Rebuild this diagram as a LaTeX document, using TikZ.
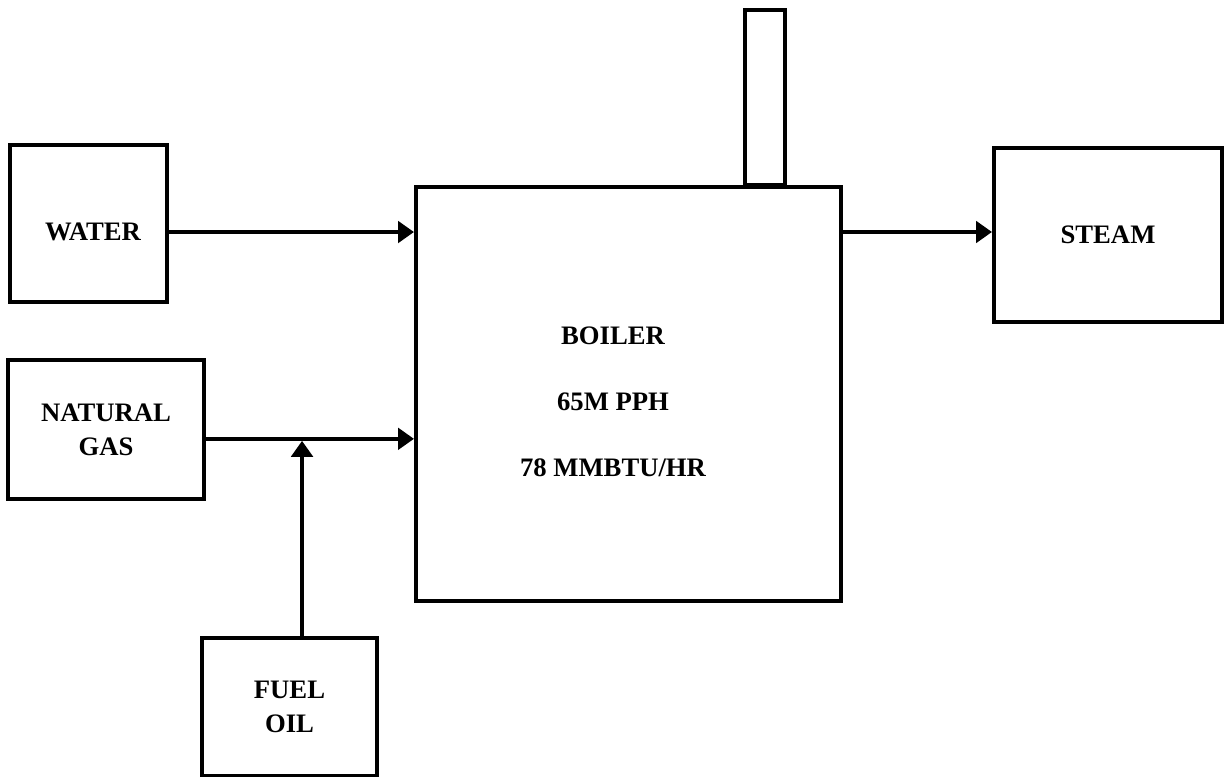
\documentclass[tikz,border=0pt]{standalone}
\usepackage{fontspec}
\setmainfont{Liberation Serif}
\usetikzlibrary{arrows.meta}

\tikzset{every picture/.style={line width=3pt}}
\tikzset{
  unit/.style={draw, rectangle, inner sep=0pt, outer sep=1.5pt, align=center,
    font=\fontsize{20}{25.5}\selectfont\bfseries},
  flow/.style={-{Triangle[length=12pt,width=16pt]}},
}

\begin{document}
\begin{tikzpicture}[x=0.75pt,y=0.75pt,yscale=-1,xscale=1]
\useasboundingbox (0,0) rectangle (1224,777);

%Shape: Rectangle [id:water]
\node [unit, minimum width=117.75pt, minimum height=117.75pt] (water) at (88.5,223.5) {};
%Shape: Rectangle [id:natgas]
\node [unit, minimum width=147pt, minimum height=104.25pt] (natgas) at (106,429.5) {NATURAL\\GAS};
%Shape: Rectangle [id:fueloil]
\node [unit, minimum width=131.25pt, minimum height=103.5pt] (fueloil) at (289.5,707) {FUEL\\OIL};
%Shape: Rectangle [id:boiler]
\node [unit, minimum width=318.75pt, minimum height=310.5pt] (boiler) at (628.5,394) {};
%Shape: Rectangle [id:stack]
\node [unit, minimum width=30pt, minimum height=131.25pt, anchor=south] (stack) at (765,187) {};
%Shape: Rectangle [id:steam]
\node [unit, minimum width=171pt, minimum height=130.5pt] (steam) at (1108,235) {STEAM};

% Text Node
\node [font=\fontsize{20}{25.5}\selectfont\bfseries] (waterlabel) at (93,232) {WATER};
% Text Node
\node [font=\fontsize{20}{49.5}\selectfont\bfseries, align=center] (boilerlabel) at (613,402) {BOILER\\65M PPH\\78 MMBTU/HR};

%Straight Lines [id:water-boiler]
\draw [flow] ([yshift=6.4pt]water.east) -- ([yshift=6.4pt]water.east -| boiler.west) ;
%Straight Lines [id:gas-boiler]
\coordinate (gasline) at ([yshift=7pt]natgas.east) ;
\draw [flow] (gasline) -- (gasline -| boiler.west) ;
%Straight Lines [id:oil-gas]
\draw [flow, shorten >=1.5pt] ([xshift=9.4pt]fueloil.north) -- ([xshift=9.4pt]fueloil.north |- gasline) ;
%Straight Lines [id:boiler-steam]
\draw [flow] ([yshift=-2.25pt]steam.west -| boiler.east) -- ([yshift=-2.25pt]steam.west) ;

\end{tikzpicture}
\end{document}
